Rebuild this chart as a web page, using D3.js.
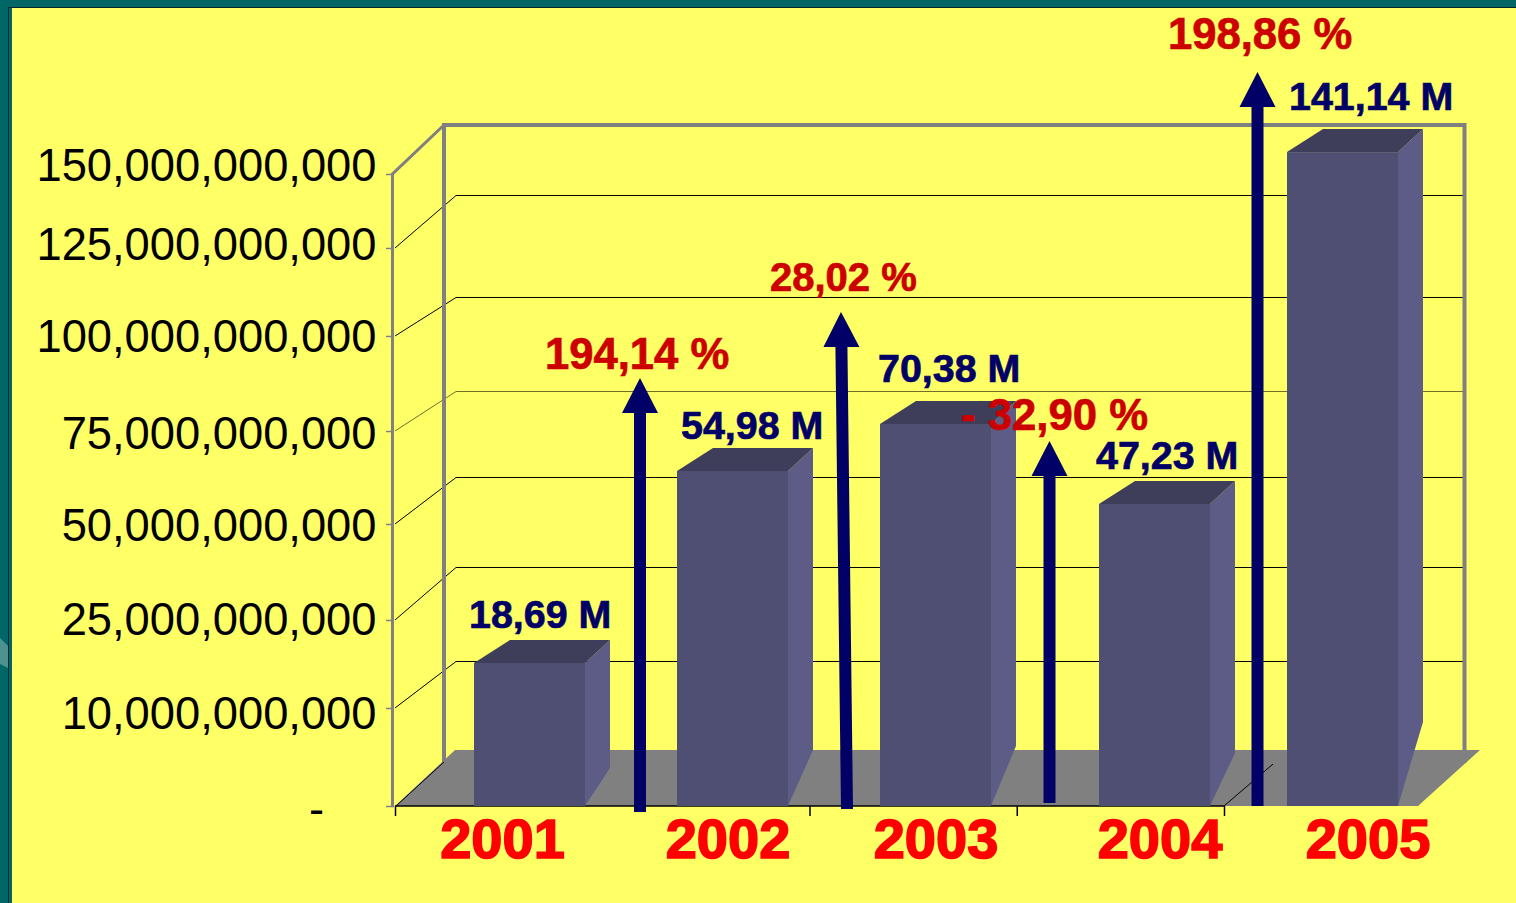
<!DOCTYPE html>
<html>
<head>
<meta charset="utf-8">
<script src="https://cdn.jsdelivr.net/npm/d3@7"></script>
<style>
  body { margin: 0; background: #006666; }
  svg { display: block; }
  text { font-family: "Liberation Sans", Arial, sans-serif; }
  .bold { font-weight: bold; }
</style>
</head>
<body>
<svg width="1516" height="903"></svg>
<script>
// values
var years = ["2001", "2002", "2003", "2004", "2005"];
var barValues = [17.67e9, 64.25e9, 76.84e9, 55.38e9, 157.4e9];
var barLabels = ["18,69 M", "54,98 M", "70,38 M", "47,23 M", "141,14 M"];
var growthLabels = ["194,14 %", "28,02 %", "- 32,90 %", "198,86 %"];
var axisTicks = [0, 10e9, 25e9, 50e9, 75e9, 100e9, 125e9, 150e9];

var svg = d3.select("svg");

// the axis of the original is not even, so the scales are piecewise
var y = d3.scaleLinear().domain(axisTicks).range([806, 708, 620, 524, 431, 336, 248, 174]);
var yBack = d3.scaleLinear().domain(axisTicks).range([750, 662, 568, 478, 392, 298, 196, 125]);
var yLabel = d3.scaleLinear().domain(axisTicks).range([809, 713, 619, 525, 433, 336, 244, 165]);
var xBar = d3.scaleLinear().domain([0, 1, 2, 3, 4]).range([474, 677, 880, 1099, 1287]);
var xYear = d3.scaleLinear().domain([0, 1, 2, 3, 4]).range([502.5, 728, 936, 1160, 1368]);
var xAxis = d3.scaleLinear().domain([0, 4]).range([395, 1224]);

var barWidth = 111, sideWidth = 25, topLeft = 36, topRise = 23;
var sideBase = [768, 750, 746, 753, 722];
var labelX = [469, 681, 878, 1096, 1289];
var labelBase = [628, 439, 382, 469, 110];
var growthX = [545, 770, 961, 1168];
var growthBase = [369, 291, 430, 49];
var growthSize = [43.6, 40, 43.7, 43.6];
// foot x, foot y, tip x, tip y
var arrows = [[640, 812, 640, 378], [847, 809, 841, 312], [1049.5, 803, 1049.5, 441], [1257.5, 806, 1257.5, 72]];

// slide frame
svg.append("rect").attr("width", 1516).attr("height", 903).attr("fill", "#006666");
svg.append("path").attr("d", "M0,638L8,646V668L0,664Z").attr("fill", "#4d9191");
svg.append("rect").attr("x", 8).attr("y", 7).attr("width", 1508).attr("height", 896).attr("fill", "#00282c");
svg.append("rect").attr("x", 9).attr("y", 8).attr("width", 1507).attr("height", 895).attr("fill", "#006666");
svg.append("rect").attr("x", 12).attr("y", 8).attr("width", 1504).attr("height", 895).attr("fill", "#ffff66");

// gridlines, slanted on the side wall and flat on the back wall
svg.append("g").selectAll("path")
  .data(axisTicks.slice(1, -1))
  .enter().append("path")
  .attr("fill", "none")
  .attr("stroke", function(d) { return d === 75e9 ? "#6f6f28" : "#000"; })
  .attr("stroke-width", 1)
  .attr("d", function(d) { return "M395," + y(d) + "L456," + (yBack(d) - 0.5) + "H1464"; });

// walls
var wall = svg.append("g").attr("fill", "none").attr("stroke", "#808080");
wall.append("path").attr("stroke-width", 4)
  .attr("d", "M444," + 763 + "V" + (yBack(150e9)) + "H1464.5V763");
wall.append("path").attr("stroke-width", 3)
  .attr("d", "M444," + yBack(150e9) + "L392.5," + y(150e9) + "V" + y(0));

// floor
svg.append("path")
  .attr("fill", "#808080")
  .attr("d", "M395," + y(0) + "L455," + yBack(0) + "H1480L1418," + y(0) + "Z");
svg.append("path")
  .attr("fill", "none").attr("stroke", "#000").attr("stroke-width", 1)
  .attr("d", "M396," + y(0) + "L444,762M1224," + y(0) + "L1273,764");

// y axis
var gy = svg.append("g")
  .attr("transform", "translate(394,0)")
  .call(d3.axisLeft(y).tickValues(axisTicks).tickSize(8).tickFormat(function(d) {
    return d === 0 ? "-" : d3.format(",")(d);
  }));
gy.select(".domain").remove();
gy.selectAll("line").attr("stroke", "#808080").attr("stroke-width", 1.5);
gy.selectAll("text")
  .attr("x", function(d) { return d === 0 ? -70 : -17.5; })
  .attr("y", function(d) { return yLabel(d) - y(d); })
  .attr("dy", "0.35em")
  .attr("fill", "#000")
  .style("font-size", "45.3px");

// x axis
var gx = svg.append("g")
  .attr("transform", "translate(0," + y(0) + ")")
  .call(d3.axisBottom(xAxis).tickValues([0, 2, 3, 4]).tickSize(10).tickFormat(""));
gx.select(".domain").attr("stroke", "#000").attr("stroke-width", 1.5).attr("d", "M395,0H1224");
gx.selectAll("line").attr("stroke", "#000").attr("stroke-width", 1.5);

svg.append("g").selectAll("text")
  .data(years)
  .enter().append("text")
  .attr("class", "bold")
  .attr("x", function(d, i) { return xYear(i); })
  .attr("y", 858)
  .attr("text-anchor", "middle")
  .attr("fill", "#ff0000")
  .attr("stroke", "#ff0000")
  .attr("stroke-width", 1.6)
  .style("font-size", "56px")
  .text(function(d) { return d; });

// bars
var bar = svg.append("g").selectAll("g")
  .data(barValues)
  .enter().append("g");

bar.append("path")
  .attr("fill", "#5c5c87")
  .attr("d", function(d, i) {
    var x1 = xBar(i) + barWidth;
    return "M" + x1 + "," + y(d) + "L" + (x1 + sideWidth) + "," + (y(d) - topRise) +
      "V" + sideBase[i] + "L" + x1 + "," + y(0) + "Z";
  });
bar.append("path")
  .attr("fill", "#3e3e5a")
  .attr("d", function(d, i) {
    var x0 = xBar(i), x1 = x0 + barWidth;
    return "M" + x0 + "," + y(d) + "L" + (x0 + topLeft) + "," + (y(d) - topRise) +
      "H" + (x1 + sideWidth) + "L" + x1 + "," + y(d) + "Z";
  });
bar.append("rect")
  .attr("x", function(d, i) { return xBar(i); })
  .attr("y", function(d) { return y(d); })
  .attr("width", barWidth)
  .attr("height", function(d) { return y(0) - y(d); })
  .attr("fill", "#4f4f73");

// value labels
svg.append("g").selectAll("text")
  .data(barLabels)
  .enter().append("text")
  .attr("class", "bold")
  .attr("x", function(d, i) { return labelX[i]; })
  .attr("y", function(d, i) { return labelBase[i]; })
  .attr("fill", "#000066")
  .attr("stroke", "#000066")
  .attr("stroke-width", 0.7)
  .style("font-size", "39.4px")
  .text(function(d) { return d; });

// growth arrows
svg.append("g").selectAll("path")
  .data(arrows)
  .enter().append("path")
  .attr("fill", "#000066")
  .attr("d", function(a) {
    var baseY = a[3] + 35;
    var k = (a[0] - a[2]) / (a[1] - a[3]);
    var neckX = a[2] + k * 35;
    return "M" + (a[0] - 6) + "," + a[1] + "L" + (neckX - 6) + "," + baseY + "H" + (neckX - 18) +
      "L" + a[2] + "," + a[3] + "L" + (neckX + 18) + "," + baseY + "H" + (neckX + 6) +
      "L" + (a[0] + 6) + "," + a[1] + "Z";
  });

svg.append("g").selectAll("text")
  .data(growthLabels)
  .enter().append("text")
  .attr("class", "bold")
  .attr("x", function(d, i) { return growthX[i]; })
  .attr("y", function(d, i) { return growthBase[i]; })
  .attr("fill", "#cc0000")
  .attr("stroke", "#cc0000")
  .attr("stroke-width", 0.7)
  .style("font-size", function(d, i) { return growthSize[i] + "px"; })
  .text(function(d) { return d; });
</script>
</body>
</html>
